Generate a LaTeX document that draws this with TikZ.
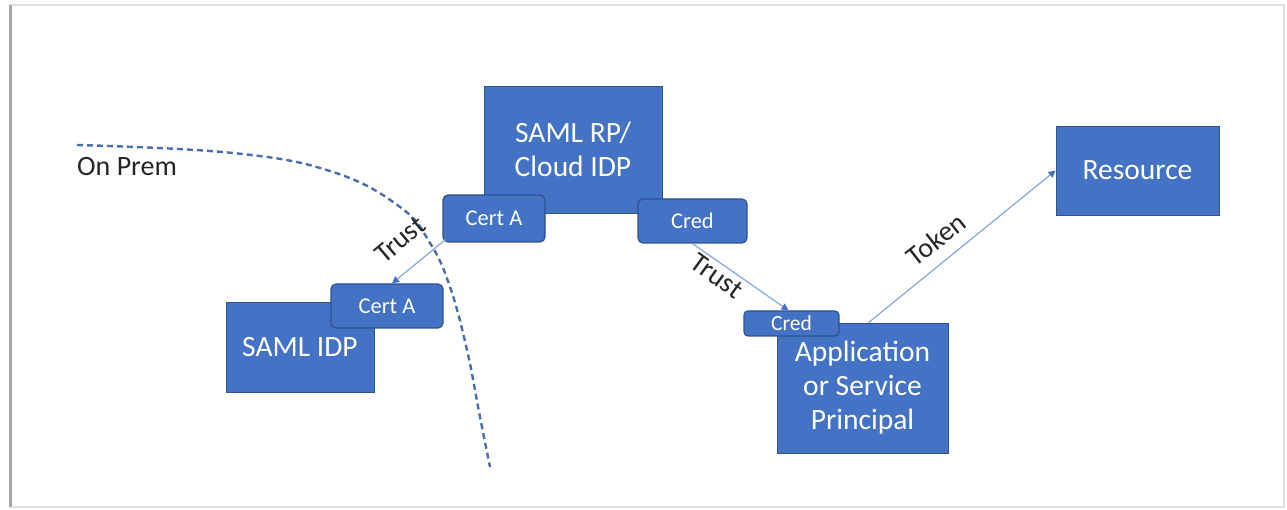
\documentclass[tikz,border=0pt]{standalone}
\usepackage{fontspec}
\setmainfont{Carlito}
\usetikzlibrary{arrows.meta,calc}
\definecolor{boxblue}{HTML}{4472C4}
\definecolor{boxedge}{HTML}{2F528F}
\definecolor{linkblue}{HTML}{8FAADC}
\definecolor{fenceblue}{HTML}{4A6DAE}
\definecolor{labelgray}{HTML}{262626}
\begin{document}
\begin{tikzpicture}[x=1pt,y=-1pt,
  block/.style={draw=boxedge, line width=0.8pt, fill=boxblue, text=white,
    inner sep=0pt, align=center, font=\fontsize{29.5}{34}\selectfont},
  tag/.style={draw=boxedge, line width=1.2pt, fill=boxblue, text=white,
    inner sep=0pt, rounded corners=5pt, font=\fontsize{22.5}{25}\selectfont},
  link/.style={draw=linkblue, line width=1.3pt,
    -{Triangle[length=7pt,width=7pt,color=boxblue]}},
  linklabel/.style={text=labelgray, font=\fontsize{28}{31}\selectfont, inner sep=0pt},
  fence/.style={draw=fenceblue, line width=2.4pt, dash pattern=on 6pt off 4pt}
]
\useasboundingbox (0,0) rectangle (1287,510);

% frame
\draw[black!12, line width=1.5pt] (10,5) rectangle (1284,507);
\draw[black!35, line width=3pt] (10,5) -- (10,507);

% on-premises boundary
\draw[fence] plot[smooth, tension=0.7] coordinates
  {(77,145) (233,153) (333,172) (400,207) (430,243) (450,287) (467,350) (480,417) (490,467)};
\node[linklabel, anchor=west] (onprem) at (77,167) {On Prem};

% boxes
\node[block, minimum width=178pt, minimum height=127pt] (rp) at (573,149.5) {SAML RP/\\Cloud IDP};
\node[tag, minimum width=102pt, minimum height=47pt] (certtop) at (494,218.5) {Cert A};
\node[tag, minimum width=109pt, minimum height=44pt] (credtop) at (692.5,221) {Cred};

\node[block, minimum width=163pt, minimum height=89pt] (res) at (1137.5,170.5) {Resource};

\node[block, minimum width=171pt, minimum height=130pt] (app) at (862.5,388) {Application\\or Service\\Principal};
\node[tag, minimum width=95pt, minimum height=25pt, rounded corners=4pt,
  font=\fontsize{21.5}{24}\selectfont] (credlow) at (791.5,323.5) {Cred};

\node[block, minimum width=148pt, minimum height=90pt] (idp) at (300,347) {SAML IDP};
\node[tag, minimum width=112pt, minimum height=44pt] (certlow) at (387,306) {Cert A};

% connectors
\draw[link] ($(certtop.south west)+(3,-3)$) -- ($(certlow.north)+(5,0)$);
\draw[link] (credtop.south) -- ($(credlow.north)+(-3,0)$);
\draw[link] ($(app.north)+(6,0)$) -- (res.west);

% connector labels
\node[linklabel, rotate=40] (trustA) at (400,240) {Trust};
\node[linklabel, rotate=-36] (trustB) at (717,276) {Trust};
\node[linklabel, rotate=38] (token) at (936,239) {Token};
\end{tikzpicture}
\end{document}
